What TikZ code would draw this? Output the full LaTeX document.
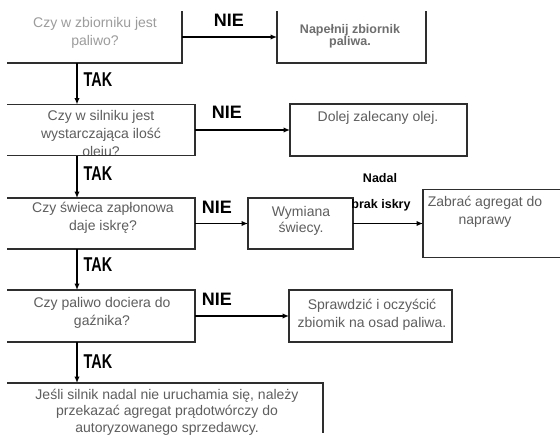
\documentclass[tikz,border=0pt]{standalone}
\usepackage{fontspec}
\setmainfont{Liberation Sans}
\usetikzlibrary{arrows.meta}
\definecolor{txtgray}{HTML}{5E5E5E}
\definecolor{lightgray}{HTML}{9C9C9C}
\definecolor{boldgray}{HTML}{6E6E6E}
\definecolor{linegray}{HTML}{2E2E2E}
\begin{document}
\begin{tikzpicture}[x=1pt,y=-1pt,
  boxshape/.style={rectangle, draw=none, inner sep=0pt, outer sep=0pt},
  fullbox/.style={rectangle, draw=linegray, line width=1.3pt, inner sep=0pt, outer sep=0pt},
  edge/.style={draw=linegray, line width=1.3pt},
  arr/.style={draw=black, line width=1.7pt, -{Latex[length=6.5pt,width=5.5pt]}},
  txt/.style={align=center, text=txtgray, font=\fontsize{14}{18}\selectfont, inner sep=0pt},
  nie/.style={font=\bfseries\fontsize{18}{18}\selectfont, inner sep=0pt},
  tak/.style={font=\bfseries\fontsize{20}{20}\selectfont, inner sep=0pt},
  lbl/.style={font=\bfseries\fontsize{12.5}{12.5}\selectfont, inner sep=0pt},
]
\useasboundingbox[fill=white] (0,0) rectangle (560,439);

% box geometry
\node[boxshape, minimum width=175pt, minimum height=52pt] (b1) at (94.5,37) {};
\node[boxshape, minimum width=149pt, minimum height=52pt] (b2) at (351.5,37) {};
\node[boxshape, minimum width=188pt, minimum height=51pt] (b3) at (101,130) {};
\node[fullbox, minimum width=177pt, minimum height=52pt] (b4) at (378.5,130) {};
\node[boxshape, minimum width=188pt, minimum height=51pt] (b5) at (101,223.5) {};
\node[fullbox, minimum width=105pt, minimum height=51pt] (b6) at (300.5,223.5) {};
\node[boxshape, minimum width=140pt, minimum height=68pt] (b7) at (493,223.5) {};
\node[boxshape, minimum width=188pt, minimum height=52pt] (b8) at (101,316) {};
\node[fullbox, minimum width=163pt, minimum height=52pt] (b9) at (370.5,316) {};
\node[boxshape, minimum width=316pt, minimum height=50pt] (b10) at (165,408) {};
\coordinate (sp) at (77,0);

% texts
\node[txt, text=lightgray] (t1) at (95,33) {Czy w zbiorniku jest\\paliwo?};
\node[txt, text=boldgray, font=\bfseries\fontsize{12.5}{12.5}\selectfont] (t2) at (350,36.5) {Napełnij zbiornik\\paliwa.};
\begin{scope}
  \clip (b3.north west) rectangle (b3.south east);
  \node[txt] (t3) at (101,135) {Czy w silniku jest\\wystarczająca ilość\\oleju?};
\end{scope}
\node[txt] (t4) at (378,117.5) {Dolej zalecany olej.};
\node[txt] (t5) at (103,217.5) {Czy świeca zapłonowa\\daje iskrę?};
\node[txt, font=\fontsize{14}{16}\selectfont] (t6) at (301,221) {Wymiana\\świecy.};
\node[txt] (t7) at (485,211.5) {Zabrać agregat do\\naprawy};
\node[txt] (t8) at (102,312.5) {Czy paliwo dociera do\\gaźnika?};
\node[txt] (t9) at (372,315) {Sprawdzić i oczyścić\\zbiomik na osad paliwa.};
\node[txt, font=\fontsize{14}{16.5}\selectfont] (t10) at (167,412) {Jeśli silnik nadal nie uruchamia się, należy\\przekazać agregat prądotwórczy do\\autoryzowanego sprzedawcy.};

% partial box edges
\draw[edge] (b1.north east) -- (b1.south east) -- (b1.south west);
\draw[edge] (b2.north west) -- (b2.south west) -- (b2.south east) -- (b2.north east);
\draw[edge] (b3.north west) -- (b3.north east) -- (b3.south east) -- (b3.south west);
\draw[edge] (b5.north west) -- (b5.north east) -- (b5.south east) -- (b5.south west);
\draw[edge] (b7.north east) -- (b7.north west) -- (b7.south west) -- (b7.south east);
\draw[edge] (b8.north west) -- (b8.north east) -- (b8.south east) -- (b8.south west);
\draw[edge] (b10.north west) -- (b10.north east) -- (b10.south east);

% NIE arrows
\draw[arr] (b1.east) -- (b2.west);
\draw[arr] (b3.east) -- (b4.west);
\draw[arr] (b5.east) -- (b6.west);
\draw[arr] (b6.east) -- (b7.west);
\draw[arr] (b8.east) -- (b9.west);

% TAK arrows
\draw[arr] (b1.south -| sp) -- (b3.north -| sp);
\draw[arr] (b3.south -| sp) -- (b5.north -| sp);
\draw[arr] (b5.south -| sp) -- (b8.north -| sp);
\draw[arr] (b8.south -| sp) -- (b10.north -| sp);

% labels
\node[nie] (n1) at (229,20) {NIE};
\node[nie] (n2) at (227,112) {NIE};
\node[nie] (n3) at (217,207) {NIE};
\node[nie] (n4) at (217,299) {NIE};
\node[tak] (k1) at (98,80) {\scalebox{0.72}[1]{TAK}};
\node[tak] (k2) at (98,174) {\scalebox{0.72}[1]{TAK}};
\node[tak] (k3) at (98,265) {\scalebox{0.72}[1]{TAK}};
\node[tak] (k4) at (98,362) {\scalebox{0.72}[1]{TAK}};
\node[lbl] (nd) at (380,178) {Nadal};
\node[lbl] (bi) at (381,205) {brak iskry};
\end{tikzpicture}
\end{document}
